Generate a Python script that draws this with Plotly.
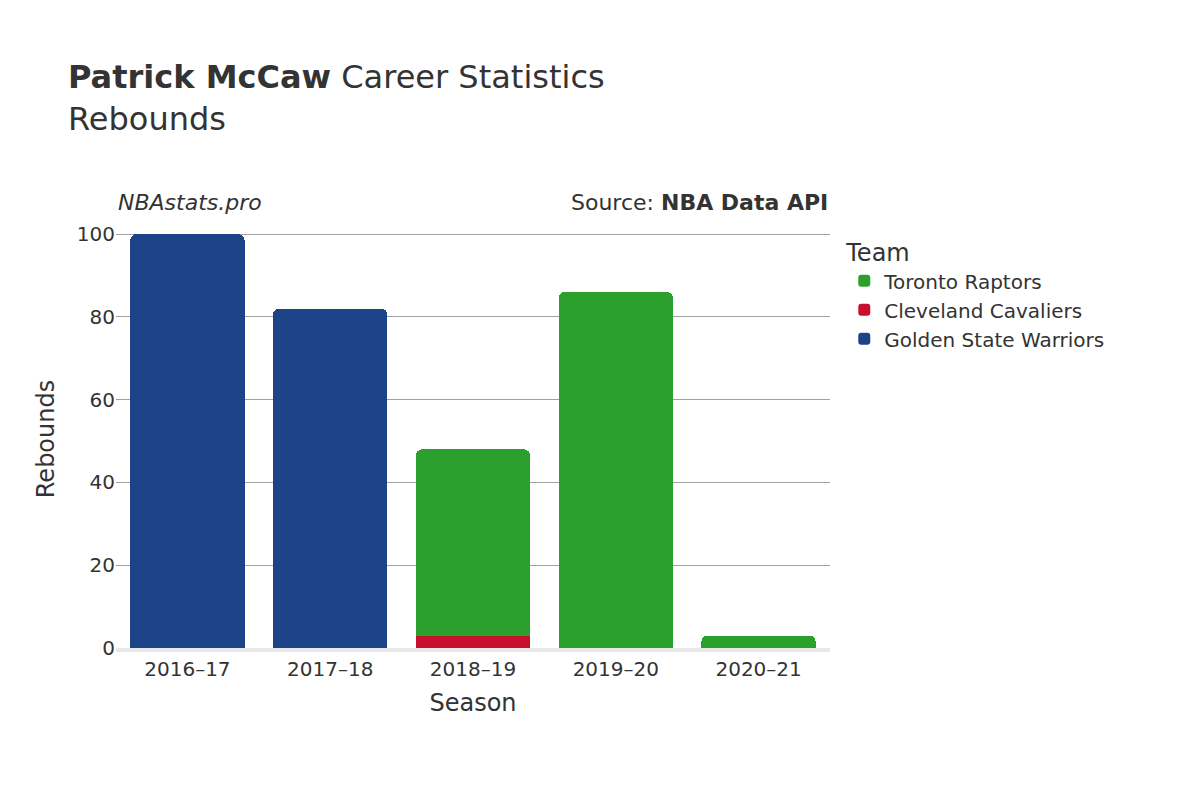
import plotly.graph_objects as go

seasons = ["2016–17", "2017–18", "2018–19", "2019–20", "2020–21"]
teams = ["Golden State Warriors", "Cleveland Cavaliers", "Toronto Raptors"]
colors = ["#1c4387", "#c8102e", "#2ca02c"]
gsw = [100, 82, None, None, None]
cle = [None, None, 3, None, None]
tor = [None, None, 45, 86, 3]

fig = go.Figure()
for name, vals, c in zip(teams, [gsw, cle, tor], colors):
    fig.add_trace(go.Bar(x=seasons, y=vals, name=name, marker_color=c,
                         marker_line_width=0))

font = "DejaVu Sans"
fig.update_layout(
    barmode="stack", barcornerradius=6, bargap=0.2,
    width=1200, height=800,
    font=dict(family=font, size=20, color="#333"),
    plot_bgcolor="white", paper_bgcolor="white",
    margin=dict(l=108, r=378, t=222, b=160),
    title=dict(text="<b>Patrick McCaw</b> Career Statistics<br>Rebounds",
               x=0.05, xanchor="left", y=0.9, yanchor="middle",
               font=dict(size=32, color="#333")),
    legend=dict(title=dict(text="Team", font=dict(size=24)), x=1.02, y=1.0,
                yanchor="top", font=dict(size=20)),
    xaxis=dict(title=dict(text="Season", font=dict(size=24)), showline=True,
               linecolor="#e8e8e8", linewidth=4),
    yaxis=dict(title=dict(text="Rebounds", font=dict(size=24)), range=[0, 101],
               dtick=20, gridcolor="#a0a0a0", zeroline=False),
    annotations=[
        dict(text="<i>NBAstats.pro</i>", xref="paper", yref="paper", x=0.0,
             y=1.03, xanchor="left", yanchor="bottom", showarrow=False,
             font=dict(size=22, color="#333")),
        dict(text="Source: <b>NBA Data API</b>", xref="paper", yref="paper",
             x=1.0, y=1.03, xanchor="right", yanchor="bottom", showarrow=False,
             font=dict(size=22, color="#333")),
    ],
)
fig.write_html("out.html")
